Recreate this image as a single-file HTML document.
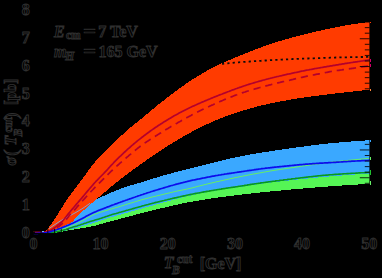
<!DOCTYPE html>
<html><head><meta charset="utf-8"><title>plot</title>
<style>
html,body{margin:0;padding:0;background:#000;}
body{width:382px;height:278px;overflow:hidden;}
svg{display:block;}
text{font-family:"Liberation Serif",serif;font-size:16px;font-weight:bold;fill:#000;stroke:#303030;stroke-width:0.9px;}
</style></head><body>
<svg width="382" height="278" viewBox="0 0 382 278" shape-rendering="crispEdges">
<rect width="382" height="278" fill="#000"/>
<polygon points="50.0,233.0 51.0,232.9 52.0,232.8 53.0,232.7 54.0,232.5 55.0,232.4 56.0,232.3 57.0,232.1 58.0,232.0 59.0,231.9 60.0,231.7 61.0,231.5 62.0,231.4 63.0,231.2 64.0,231.0 65.0,230.8 66.0,230.6 67.0,230.3 68.0,230.1 69.0,229.8 70.0,229.6 71.0,229.3 72.0,229.1 73.0,228.8 74.0,228.6 75.0,228.3 76.0,228.0 77.0,227.7 78.0,227.4 79.0,227.1 80.0,226.8 81.0,226.5 82.0,226.2 83.0,225.9 84.0,225.6 85.0,225.3 86.0,225.1 87.0,224.8 88.0,224.5 89.0,224.2 90.0,223.9 91.0,223.7 92.0,223.4 93.0,223.1 94.0,222.8 95.0,222.5 96.0,222.2 97.0,221.9 98.0,221.5 99.0,221.2 100.0,220.9 101.0,220.6 102.0,220.3 103.0,220.0 104.0,219.6 105.0,219.3 106.0,219.0 107.0,218.7 108.0,218.3 109.0,218.0 110.0,217.6 111.0,217.3 112.0,217.0 113.0,216.7 114.0,216.4 115.0,216.1 116.0,215.9 117.0,215.6 118.0,215.3 119.0,215.0 120.0,214.7 121.0,214.5 122.0,214.2 123.0,213.9 124.0,213.6 125.0,213.3 126.0,213.0 127.0,212.8 128.0,212.5 129.0,212.2 130.0,211.9 131.0,211.6 132.0,211.3 133.0,211.1 134.0,210.8 135.0,210.5 136.0,210.2 137.0,209.9 138.0,209.6 139.0,209.3 140.0,209.1 141.0,208.8 142.0,208.5 143.0,208.2 144.0,207.9 145.0,207.6 146.0,207.4 147.0,207.1 148.0,206.8 149.0,206.5 150.0,206.2 151.0,205.9 152.0,205.7 153.0,205.4 154.0,205.1 155.0,204.8 156.0,204.5 157.0,204.3 158.0,204.0 159.0,203.7 160.0,203.4 161.0,203.2 162.0,202.9 163.0,202.6 164.0,202.3 165.0,202.1 166.0,201.8 167.0,201.5 168.0,201.3 169.0,201.0 170.0,200.7 171.0,200.4 172.0,200.2 173.0,199.9 174.0,199.6 175.0,199.4 176.0,199.1 177.0,198.9 178.0,198.6 179.0,198.3 180.0,198.1 181.0,197.8 182.0,197.6 183.0,197.3 184.0,197.1 185.0,196.9 186.0,196.6 187.0,196.4 188.0,196.2 189.0,195.9 190.0,195.7 191.0,195.5 192.0,195.3 193.0,195.0 194.0,194.8 195.0,194.6 196.0,194.4 197.0,194.2 198.0,194.0 199.0,193.8 200.0,193.6 201.0,193.4 202.0,193.2 203.0,193.0 204.0,192.8 205.0,192.6 206.0,192.4 207.0,192.2 208.0,192.0 209.0,191.8 210.0,191.6 211.0,191.4 212.0,191.3 213.0,191.1 214.0,190.9 215.0,190.7 216.0,190.5 217.0,190.4 218.0,190.2 219.0,190.0 220.0,189.9 221.0,189.7 222.0,189.5 223.0,189.4 224.0,189.2 225.0,189.1 226.0,188.9 227.0,188.7 228.0,188.6 229.0,188.5 230.0,188.3 231.0,188.2 232.0,188.0 233.0,187.9 234.0,187.8 235.0,187.6 236.0,187.5 237.0,187.3 238.0,187.2 239.0,187.1 240.0,186.9 241.0,186.8 242.0,186.6 243.0,186.5 244.0,186.3 245.0,186.1 246.0,186.0 247.0,185.8 248.0,185.7 249.0,185.5 250.0,185.4 251.0,185.3 252.0,185.1 253.0,185.0 254.0,184.8 255.0,184.7 256.0,184.5 257.0,184.4 258.0,184.2 259.0,184.1 260.0,184.0 261.0,183.8 262.0,183.7 263.0,183.6 264.0,183.4 265.0,183.3 266.0,183.2 267.0,183.1 268.0,182.9 269.0,182.8 270.0,182.7 271.0,182.6 272.0,182.4 273.0,182.3 274.0,182.2 275.0,182.1 276.0,182.0 277.0,181.9 278.0,181.8 279.0,181.7 280.0,181.5 281.0,181.4 282.0,181.3 283.0,181.2 284.0,181.1 285.0,181.0 286.0,180.9 287.0,180.8 288.0,180.7 289.0,180.6 290.0,180.4 291.0,180.3 292.0,180.2 293.0,180.1 294.0,180.0 295.0,179.8 296.0,179.7 297.0,179.6 298.0,179.5 299.0,179.4 300.0,179.3 301.0,179.2 302.0,179.1 303.0,179.0 304.0,178.9 305.0,178.8 306.0,178.7 307.0,178.6 308.0,178.5 309.0,178.4 310.0,178.3 311.0,178.2 312.0,178.1 313.0,178.0 314.0,177.9 315.0,177.8 316.0,177.7 317.0,177.6 318.0,177.5 319.0,177.4 320.0,177.3 321.0,177.2 322.0,177.1 323.0,177.0 324.0,176.9 325.0,176.8 326.0,176.7 327.0,176.7 328.0,176.6 329.0,176.5 330.0,176.4 331.0,176.3 332.0,176.3 333.0,176.2 334.0,176.1 335.0,176.0 336.0,175.9 337.0,175.9 338.0,175.8 339.0,175.7 340.0,175.6 341.0,175.6 342.0,175.5 343.0,175.4 344.0,175.3 345.0,175.3 346.0,175.2 347.0,175.1 348.0,175.0 349.0,175.0 350.0,174.9 351.0,174.8 352.0,174.7 353.0,174.7 354.0,174.6 355.0,174.5 356.0,174.4 357.0,174.4 358.0,174.3 359.0,174.2 360.0,174.2 361.0,174.1 362.0,174.0 363.0,173.9 364.0,173.9 365.0,173.8 366.0,173.7 367.0,173.7 368.0,173.6 369.0,173.5 369.6,173.5 369.6,183.9 369.0,183.9 368.0,184.0 367.0,184.0 366.0,184.1 365.0,184.1 364.0,184.2 363.0,184.2 362.0,184.3 361.0,184.3 360.0,184.4 359.0,184.4 358.0,184.5 357.0,184.6 356.0,184.6 355.0,184.7 354.0,184.7 353.0,184.8 352.0,184.8 351.0,184.9 350.0,185.0 349.0,185.0 348.0,185.1 347.0,185.1 346.0,185.2 345.0,185.3 344.0,185.3 343.0,185.4 342.0,185.5 341.0,185.5 340.0,185.6 339.0,185.6 338.0,185.7 337.0,185.8 336.0,185.9 335.0,185.9 334.0,186.0 333.0,186.1 332.0,186.2 331.0,186.2 330.0,186.3 329.0,186.4 328.0,186.5 327.0,186.6 326.0,186.7 325.0,186.8 324.0,186.8 323.0,186.9 322.0,187.0 321.0,187.1 320.0,187.2 319.0,187.2 318.0,187.3 317.0,187.4 316.0,187.4 315.0,187.5 314.0,187.6 313.0,187.7 312.0,187.7 311.0,187.8 310.0,187.9 309.0,188.0 308.0,188.1 307.0,188.1 306.0,188.2 305.0,188.3 304.0,188.4 303.0,188.5 302.0,188.6 301.0,188.6 300.0,188.7 299.0,188.8 298.0,188.9 297.0,189.0 296.0,189.1 295.0,189.2 294.0,189.3 293.0,189.4 292.0,189.4 291.0,189.5 290.0,189.6 289.0,189.7 288.0,189.8 287.0,189.9 286.0,190.0 285.0,190.1 284.0,190.2 283.0,190.3 282.0,190.4 281.0,190.5 280.0,190.5 279.0,190.6 278.0,190.7 277.0,190.8 276.0,190.9 275.0,191.0 274.0,191.1 273.0,191.2 272.0,191.3 271.0,191.4 270.0,191.5 269.0,191.6 268.0,191.7 267.0,191.8 266.0,191.9 265.0,192.0 264.0,192.1 263.0,192.2 262.0,192.3 261.0,192.4 260.0,192.5 259.0,192.6 258.0,192.7 257.0,192.8 256.0,192.9 255.0,193.0 254.0,193.2 253.0,193.3 252.0,193.4 251.0,193.5 250.0,193.6 249.0,193.7 248.0,193.8 247.0,193.9 246.0,194.1 245.0,194.2 244.0,194.3 243.0,194.4 242.0,194.5 241.0,194.6 240.0,194.8 239.0,194.9 238.0,195.0 237.0,195.1 236.0,195.2 235.0,195.4 234.0,195.5 233.0,195.6 232.0,195.7 231.0,195.9 230.0,196.0 229.0,196.1 228.0,196.2 227.0,196.4 226.0,196.5 225.0,196.6 224.0,196.8 223.0,196.9 222.0,197.0 221.0,197.1 220.0,197.3 219.0,197.4 218.0,197.5 217.0,197.7 216.0,197.8 215.0,198.0 214.0,198.1 213.0,198.2 212.0,198.4 211.0,198.5 210.0,198.7 209.0,198.9 208.0,199.0 207.0,199.2 206.0,199.3 205.0,199.5 204.0,199.7 203.0,199.8 202.0,200.0 201.0,200.2 200.0,200.3 199.0,200.5 198.0,200.6 197.0,200.8 196.0,201.0 195.0,201.1 194.0,201.3 193.0,201.5 192.0,201.6 191.0,201.8 190.0,202.0 189.0,202.2 188.0,202.4 187.0,202.6 186.0,202.8 185.0,203.0 184.0,203.2 183.0,203.4 182.0,203.6 181.0,203.8 180.0,204.1 179.0,204.3 178.0,204.5 177.0,204.7 176.0,204.9 175.0,205.2 174.0,205.4 173.0,205.6 172.0,205.8 171.0,206.1 170.0,206.3 169.0,206.5 168.0,206.7 167.0,207.0 166.0,207.2 165.0,207.4 164.0,207.7 163.0,207.9 162.0,208.1 161.0,208.3 160.0,208.6 159.0,208.8 158.0,209.0 157.0,209.3 156.0,209.5 155.0,209.8 154.0,210.0 153.0,210.2 152.0,210.5 151.0,210.7 150.0,211.0 149.0,211.2 148.0,211.5 147.0,211.7 146.0,212.0 145.0,212.2 144.0,212.5 143.0,212.7 142.0,213.0 141.0,213.3 140.0,213.5 139.0,213.8 138.0,214.1 137.0,214.3 136.0,214.6 135.0,214.9 134.0,215.1 133.0,215.4 132.0,215.7 131.0,215.9 130.0,216.2 129.0,216.5 128.0,216.7 127.0,217.0 126.0,217.3 125.0,217.5 124.0,217.8 123.0,218.1 122.0,218.3 121.0,218.6 120.0,218.9 119.0,219.1 118.0,219.4 117.0,219.7 116.0,219.9 115.0,220.2 114.0,220.5 113.0,220.7 112.0,221.0 111.0,221.3 110.0,221.5 109.0,221.8 108.0,222.1 107.0,222.3 106.0,222.6 105.0,222.9 104.0,223.1 103.0,223.4 102.0,223.7 101.0,223.9 100.0,224.2 99.0,224.5 98.0,224.8 97.0,225.1 96.0,225.5 95.0,225.7 94.0,226.0 93.0,226.2 92.0,226.4 91.0,226.6 90.0,226.8 89.0,227.0 88.0,227.2 87.0,227.4 86.0,227.5 85.0,227.7 84.0,227.9 83.0,228.0 82.0,228.2 81.0,228.4 80.0,228.5 79.0,228.7 78.0,228.9 77.0,229.0 76.0,229.2 75.0,229.4 74.0,229.5 73.0,229.7 72.0,229.9 71.0,230.0 70.0,230.2 69.0,230.4 68.0,230.6 67.0,230.7 66.0,230.9 65.0,231.1 64.0,231.3 63.0,231.5 62.0,231.7 61.0,231.8 60.0,232.0 59.0,232.2 58.0,232.3 57.0,232.5 56.0,232.6 55.0,232.8 54.0,232.9 53.0,233.1 52.0,233.2" fill="#55f555"/>
<polygon points="44.0,232.0 45.0,231.3 46.0,230.6 47.0,229.9 48.0,229.2 49.0,228.5 50.0,227.8 51.0,227.2 52.0,226.5 53.0,225.8 54.0,225.1 55.0,224.5 56.0,223.8 57.0,223.1 58.0,222.5 59.0,221.8 60.0,221.2 61.0,220.6 62.0,220.0 63.0,219.4 64.0,218.9 65.0,218.3 66.0,217.8 67.0,217.2 68.0,216.7 69.0,216.2 70.0,215.6 71.0,215.1 72.0,214.6 73.0,214.0 74.0,213.5 75.0,212.9 76.0,212.4 77.0,211.8 78.0,211.2 79.0,210.6 80.0,210.0 81.0,209.4 82.0,208.8 83.0,208.1 84.0,207.5 85.0,206.8 86.0,206.1 87.0,205.4 88.0,204.7 89.0,204.0 90.0,203.3 91.0,202.7 92.0,202.1 93.0,201.5 94.0,200.9 95.0,200.3 96.0,199.8 97.0,199.2 98.0,198.6 99.0,198.1 100.0,197.6 101.0,197.1 102.0,196.7 103.0,196.2 104.0,195.8 105.0,195.3 106.0,194.9 107.0,194.4 108.0,194.0 109.0,193.5 110.0,193.1 111.0,192.6 112.0,192.2 113.0,191.8 114.0,191.4 115.0,191.0 116.0,190.6 117.0,190.2 118.0,189.8 119.0,189.4 120.0,189.1 121.0,188.7 122.0,188.3 123.0,188.0 124.0,187.6 125.0,187.3 126.0,186.9 127.0,186.6 128.0,186.2 129.0,185.9 130.0,185.6 131.0,185.3 132.0,185.0 133.0,184.7 134.0,184.4 135.0,184.1 136.0,183.8 137.0,183.5 138.0,183.3 139.0,183.0 140.0,182.7 141.0,182.4 142.0,182.1 143.0,181.8 144.0,181.5 145.0,181.2 146.0,180.8 147.0,180.5 148.0,180.2 149.0,179.9 150.0,179.6 151.0,179.2 152.0,178.9 153.0,178.6 154.0,178.3 155.0,178.0 156.0,177.7 157.0,177.4 158.0,177.1 159.0,176.8 160.0,176.5 161.0,176.2 162.0,175.9 163.0,175.6 164.0,175.4 165.0,175.1 166.0,174.8 167.0,174.5 168.0,174.2 169.0,174.0 170.0,173.7 171.0,173.4 172.0,173.2 173.0,172.9 174.0,172.6 175.0,172.4 176.0,172.1 177.0,171.9 178.0,171.6 179.0,171.3 180.0,171.1 181.0,170.8 182.0,170.6 183.0,170.3 184.0,170.0 185.0,169.8 186.0,169.5 187.0,169.3 188.0,169.0 189.0,168.8 190.0,168.5 191.0,168.2 192.0,168.0 193.0,167.7 194.0,167.5 195.0,167.2 196.0,167.0 197.0,166.7 198.0,166.5 199.0,166.2 200.0,166.0 201.0,165.7 202.0,165.5 203.0,165.2 204.0,165.0 205.0,164.8 206.0,164.5 207.0,164.2 208.0,164.0 209.0,163.8 210.0,163.5 211.0,163.2 212.0,163.0 213.0,162.8 214.0,162.5 215.0,162.2 216.0,162.0 217.0,161.7 218.0,161.5 219.0,161.2 220.0,161.0 221.0,160.7 222.0,160.5 223.0,160.2 224.0,160.0 225.0,159.7 226.0,159.5 227.0,159.3 228.0,159.0 229.0,158.8 230.0,158.6 231.0,158.4 232.0,158.2 233.0,157.9 234.0,157.7 235.0,157.5 236.0,157.3 237.0,157.1 238.0,156.9 239.0,156.7 240.0,156.5 241.0,156.3 242.0,156.1 243.0,155.9 244.0,155.7 245.0,155.5 246.0,155.3 247.0,155.1 248.0,155.0 249.0,154.8 250.0,154.6 251.0,154.4 252.0,154.2 253.0,154.1 254.0,153.9 255.0,153.7 256.0,153.6 257.0,153.4 258.0,153.2 259.0,153.1 260.0,152.9 261.0,152.8 262.0,152.6 263.0,152.4 264.0,152.3 265.0,152.1 266.0,152.0 267.0,151.8 268.0,151.6 269.0,151.5 270.0,151.3 271.0,151.2 272.0,151.0 273.0,150.9 274.0,150.7 275.0,150.6 276.0,150.4 277.0,150.3 278.0,150.1 279.0,150.0 280.0,149.8 281.0,149.7 282.0,149.6 283.0,149.4 284.0,149.3 285.0,149.1 286.0,149.0 287.0,148.9 288.0,148.7 289.0,148.6 290.0,148.4 291.0,148.3 292.0,148.1 293.0,148.0 294.0,147.9 295.0,147.7 296.0,147.6 297.0,147.4 298.0,147.3 299.0,147.2 300.0,147.0 301.0,146.9 302.0,146.8 303.0,146.6 304.0,146.5 305.0,146.4 306.0,146.2 307.0,146.1 308.0,146.0 309.0,145.8 310.0,145.7 311.0,145.6 312.0,145.4 313.0,145.3 314.0,145.2 315.0,145.1 316.0,144.9 317.0,144.8 318.0,144.7 319.0,144.6 320.0,144.4 321.0,144.3 322.0,144.2 323.0,144.1 324.0,144.0 325.0,143.9 326.0,143.7 327.0,143.6 328.0,143.5 329.0,143.4 330.0,143.3 331.0,143.2 332.0,143.1 333.0,143.0 334.0,142.9 335.0,142.8 336.0,142.7 337.0,142.6 338.0,142.5 339.0,142.5 340.0,142.4 341.0,142.3 342.0,142.2 343.0,142.1 344.0,142.1 345.0,142.0 346.0,141.9 347.0,141.8 348.0,141.7 349.0,141.7 350.0,141.6 351.0,141.5 352.0,141.4 353.0,141.4 354.0,141.3 355.0,141.2 356.0,141.1 357.0,141.1 358.0,141.0 359.0,140.9 360.0,140.9 361.0,140.8 362.0,140.7 363.0,140.6 364.0,140.6 365.0,140.5 366.0,140.4 367.0,140.4 368.0,140.3 369.0,140.2 369.6,140.2 369.6,173.5 369.0,173.5 368.0,173.6 367.0,173.7 366.0,173.7 365.0,173.8 364.0,173.9 363.0,173.9 362.0,174.0 361.0,174.1 360.0,174.2 359.0,174.2 358.0,174.3 357.0,174.4 356.0,174.4 355.0,174.5 354.0,174.6 353.0,174.7 352.0,174.7 351.0,174.8 350.0,174.9 349.0,175.0 348.0,175.0 347.0,175.1 346.0,175.2 345.0,175.3 344.0,175.3 343.0,175.4 342.0,175.5 341.0,175.6 340.0,175.6 339.0,175.7 338.0,175.8 337.0,175.9 336.0,175.9 335.0,176.0 334.0,176.1 333.0,176.2 332.0,176.3 331.0,176.3 330.0,176.4 329.0,176.5 328.0,176.6 327.0,176.7 326.0,176.7 325.0,176.8 324.0,176.9 323.0,177.0 322.0,177.1 321.0,177.2 320.0,177.3 319.0,177.4 318.0,177.5 317.0,177.6 316.0,177.7 315.0,177.8 314.0,177.9 313.0,178.0 312.0,178.1 311.0,178.2 310.0,178.3 309.0,178.4 308.0,178.5 307.0,178.6 306.0,178.7 305.0,178.8 304.0,178.9 303.0,179.0 302.0,179.1 301.0,179.2 300.0,179.3 299.0,179.4 298.0,179.5 297.0,179.6 296.0,179.7 295.0,179.8 294.0,180.0 293.0,180.1 292.0,180.2 291.0,180.3 290.0,180.4 289.0,180.6 288.0,180.7 287.0,180.8 286.0,180.9 285.0,181.0 284.0,181.1 283.0,181.2 282.0,181.3 281.0,181.4 280.0,181.5 279.0,181.7 278.0,181.8 277.0,181.9 276.0,182.0 275.0,182.1 274.0,182.2 273.0,182.3 272.0,182.4 271.0,182.6 270.0,182.7 269.0,182.8 268.0,182.9 267.0,183.1 266.0,183.2 265.0,183.3 264.0,183.4 263.0,183.6 262.0,183.7 261.0,183.8 260.0,184.0 259.0,184.1 258.0,184.2 257.0,184.4 256.0,184.5 255.0,184.7 254.0,184.8 253.0,185.0 252.0,185.1 251.0,185.3 250.0,185.4 249.0,185.5 248.0,185.7 247.0,185.8 246.0,186.0 245.0,186.1 244.0,186.3 243.0,186.5 242.0,186.6 241.0,186.8 240.0,186.9 239.0,187.1 238.0,187.2 237.0,187.3 236.0,187.5 235.0,187.6 234.0,187.8 233.0,187.9 232.0,188.0 231.0,188.2 230.0,188.3 229.0,188.5 228.0,188.6 227.0,188.7 226.0,188.9 225.0,189.1 224.0,189.2 223.0,189.4 222.0,189.5 221.0,189.7 220.0,189.9 219.0,190.0 218.0,190.2 217.0,190.4 216.0,190.5 215.0,190.7 214.0,190.9 213.0,191.1 212.0,191.3 211.0,191.4 210.0,191.6 209.0,191.8 208.0,192.0 207.0,192.2 206.0,192.4 205.0,192.6 204.0,192.8 203.0,193.0 202.0,193.2 201.0,193.4 200.0,193.6 199.0,193.8 198.0,194.0 197.0,194.2 196.0,194.4 195.0,194.6 194.0,194.8 193.0,195.0 192.0,195.3 191.0,195.5 190.0,195.7 189.0,195.9 188.0,196.2 187.0,196.4 186.0,196.6 185.0,196.9 184.0,197.1 183.0,197.3 182.0,197.6 181.0,197.8 180.0,198.1 179.0,198.3 178.0,198.6 177.0,198.9 176.0,199.1 175.0,199.4 174.0,199.6 173.0,199.9 172.0,200.2 171.0,200.4 170.0,200.7 169.0,201.0 168.0,201.3 167.0,201.5 166.0,201.8 165.0,202.1 164.0,202.3 163.0,202.6 162.0,202.9 161.0,203.2 160.0,203.4 159.0,203.7 158.0,204.0 157.0,204.3 156.0,204.5 155.0,204.8 154.0,205.1 153.0,205.4 152.0,205.7 151.0,205.9 150.0,206.2 149.0,206.5 148.0,206.8 147.0,207.1 146.0,207.4 145.0,207.6 144.0,207.9 143.0,208.2 142.0,208.5 141.0,208.8 140.0,209.1 139.0,209.3 138.0,209.6 137.0,209.9 136.0,210.2 135.0,210.5 134.0,210.8 133.0,211.1 132.0,211.3 131.0,211.6 130.0,211.9 129.0,212.2 128.0,212.5 127.0,212.8 126.0,213.0 125.0,213.3 124.0,213.6 123.0,213.9 122.0,214.2 121.0,214.5 120.0,214.7 119.0,215.0 118.0,215.3 117.0,215.6 116.0,215.9 115.0,216.1 114.0,216.4 113.0,216.7 112.0,217.0 111.0,217.3 110.0,217.6 109.0,218.0 108.0,218.3 107.0,218.7 106.0,219.0 105.0,219.3 104.0,219.6 103.0,220.0 102.0,220.3 101.0,220.6 100.0,220.9 99.0,221.2 98.0,221.5 97.0,221.9 96.0,222.2 95.0,222.5 94.0,222.8 93.0,223.1 92.0,223.4 91.0,223.7 90.0,223.9 89.0,224.2 88.0,224.5 87.0,224.8 86.0,225.1 85.0,225.3 84.0,225.6 83.0,225.9 82.0,226.2 81.0,226.5 80.0,226.8 79.0,227.1 78.0,227.4 77.0,227.7 76.0,228.0 75.0,228.3 74.0,228.6 73.0,228.8 72.0,229.1 71.0,229.3 70.0,229.6 69.0,229.8 68.0,230.1 67.0,230.3 66.0,230.6 65.0,230.8 64.0,231.0 63.0,231.2 62.0,231.4 61.0,231.5 60.0,231.7 59.0,231.9 58.0,232.0 57.0,232.1 56.0,232.3 55.0,232.4 54.0,232.5 53.0,232.7 52.0,232.8 51.0,232.9 50.0,233.0" fill="#3aa8ff"/>
<polygon points="43.2,232.5 44.2,231.8 45.2,231.0 46.2,230.1 47.2,229.1 48.2,227.9 49.2,226.7 50.2,225.4 51.2,224.1 52.2,222.7 53.2,221.2 54.2,219.7 55.2,218.1 56.2,216.6 57.2,215.0 58.2,213.5 59.2,211.9 60.2,210.3 61.2,208.7 62.2,207.1 63.2,205.5 64.2,203.9 65.2,202.4 66.2,200.8 67.2,199.3 68.2,197.9 69.2,196.5 70.2,195.1 71.2,193.8 72.2,192.4 73.2,191.1 74.2,189.8 75.2,188.5 76.2,187.2 77.2,185.9 78.2,184.6 79.2,183.3 80.2,181.9 81.2,180.5 82.2,179.2 83.2,177.8 84.2,176.4 85.2,175.0 86.2,173.7 87.2,172.3 88.2,170.9 89.2,169.6 90.2,168.2 91.2,166.9 92.2,165.5 93.2,164.2 94.2,163.0 95.2,161.8 96.2,160.6 97.2,159.5 98.2,158.4 99.2,157.4 100.2,156.3 101.2,155.2 102.2,154.2 103.2,153.2 104.2,152.2 105.2,151.2 106.2,150.2 107.2,149.2 108.2,148.1 109.2,147.1 110.2,146.1 111.2,145.1 112.2,144.1 113.2,143.1 114.2,142.2 115.2,141.2 116.2,140.3 117.2,139.3 118.2,138.4 119.2,137.5 120.2,136.6 121.2,135.7 122.2,134.8 123.2,133.9 124.2,133.0 125.2,132.1 126.2,131.2 127.2,130.3 128.2,129.4 129.2,128.6 130.2,127.7 131.2,126.9 132.2,126.1 133.2,125.3 134.2,124.5 135.2,123.7 136.2,122.9 137.2,122.1 138.2,121.3 139.2,120.5 140.2,119.7 141.2,118.9 142.2,118.0 143.2,117.2 144.2,116.4 145.2,115.5 146.2,114.7 147.2,113.8 148.2,113.0 149.2,112.1 150.2,111.3 151.2,110.4 152.2,109.6 153.2,108.8 154.2,107.9 155.2,107.1 156.2,106.3 157.2,105.5 158.2,104.7 159.2,103.9 160.2,103.1 161.2,102.3 162.2,101.6 163.2,100.8 164.2,100.0 165.2,99.2 166.2,98.4 167.2,97.7 168.2,96.9 169.2,96.1 170.2,95.4 171.2,94.6 172.2,93.8 173.2,93.1 174.2,92.3 175.2,91.6 176.2,90.8 177.2,90.1 178.2,89.4 179.2,88.6 180.2,87.9 181.2,87.2 182.2,86.5 183.2,85.8 184.2,85.1 185.2,84.4 186.2,83.7 187.2,83.0 188.2,82.3 189.2,81.6 190.2,81.0 191.2,80.3 192.2,79.7 193.2,79.0 194.2,78.4 195.2,77.8 196.2,77.2 197.2,76.6 198.2,76.0 199.2,75.4 200.2,74.8 201.2,74.2 202.2,73.6 203.2,73.0 204.2,72.4 205.2,71.8 206.2,71.2 207.2,70.6 208.2,70.1 209.2,69.5 210.2,68.9 211.2,68.4 212.2,67.8 213.2,67.3 214.2,66.8 215.2,66.3 216.2,65.8 217.2,65.4 218.2,64.9 219.2,64.5 220.2,64.0 221.2,63.6 222.2,63.1 223.2,62.7 224.2,62.3 225.2,61.8 226.2,61.4 227.2,61.0 228.2,60.5 229.2,60.1 230.2,59.7 231.2,59.3 232.2,58.8 233.2,58.4 234.2,58.0 235.2,57.6 236.2,57.1 237.2,56.7 238.2,56.3 239.2,55.9 240.2,55.5 241.2,55.1 242.2,54.7 243.2,54.3 244.2,53.9 245.2,53.5 246.2,53.1 247.2,52.7 248.2,52.3 249.2,51.9 250.2,51.5 251.2,51.1 252.2,50.7 253.2,50.3 254.2,50.0 255.2,49.6 256.2,49.2 257.2,48.8 258.2,48.4 259.2,48.0 260.2,47.7 261.2,47.3 262.2,46.9 263.2,46.6 264.2,46.2 265.2,45.9 266.2,45.5 267.2,45.2 268.2,44.8 269.2,44.5 270.2,44.2 271.2,43.8 272.2,43.5 273.2,43.2 274.2,42.8 275.2,42.5 276.2,42.2 277.2,41.9 278.2,41.6 279.2,41.2 280.2,40.9 281.2,40.6 282.2,40.3 283.2,40.0 284.2,39.7 285.2,39.4 286.2,39.1 287.2,38.9 288.2,38.6 289.2,38.3 290.2,38.0 291.2,37.7 292.2,37.5 293.2,37.2 294.2,36.9 295.2,36.6 296.2,36.4 297.2,36.1 298.2,35.8 299.2,35.6 300.2,35.3 301.2,35.1 302.2,34.8 303.2,34.6 304.2,34.3 305.2,34.1 306.2,33.8 307.2,33.6 308.2,33.3 309.2,33.1 310.2,32.9 311.2,32.6 312.2,32.4 313.2,32.2 314.2,31.9 315.2,31.7 316.2,31.5 317.2,31.3 318.2,31.0 319.2,30.8 320.2,30.6 321.2,30.4 322.2,30.2 323.2,29.9 324.2,29.7 325.2,29.5 326.2,29.3 327.2,29.0 328.2,28.8 329.2,28.6 330.2,28.4 331.2,28.2 332.2,28.0 333.2,27.8 334.2,27.6 335.2,27.4 336.2,27.2 337.2,27.0 338.2,26.8 339.2,26.6 340.2,26.4 341.2,26.2 342.2,26.1 343.2,25.9 344.2,25.7 345.2,25.5 346.2,25.4 347.2,25.2 348.2,25.0 349.2,24.9 350.2,24.7 351.2,24.5 352.2,24.4 353.2,24.2 354.2,24.1 355.2,23.9 356.2,23.8 357.2,23.6 358.2,23.5 359.2,23.3 360.2,23.2 361.2,23.0 362.2,22.9 363.2,22.8 364.2,22.6 365.2,22.5 366.2,22.3 367.2,22.2 368.2,22.1 369.2,22.0 369.6,21.9 369.6,89.7 369.0,89.8 368.0,89.9 367.0,90.0 366.0,90.1 365.0,90.2 364.0,90.3 363.0,90.4 362.0,90.6 361.0,90.7 360.0,90.8 359.0,90.9 358.0,91.0 357.0,91.1 356.0,91.2 355.0,91.3 354.0,91.4 353.0,91.5 352.0,91.7 351.0,91.8 350.0,91.9 349.0,92.0 348.0,92.1 347.0,92.2 346.0,92.3 345.0,92.4 344.0,92.5 343.0,92.6 342.0,92.7 341.0,92.8 340.0,92.9 339.0,93.0 338.0,93.2 337.0,93.3 336.0,93.4 335.0,93.5 334.0,93.6 333.0,93.7 332.0,93.8 331.0,94.0 330.0,94.1 329.0,94.2 328.0,94.3 327.0,94.5 326.0,94.6 325.0,94.7 324.0,94.8 323.0,95.0 322.0,95.1 321.0,95.2 320.0,95.3 319.0,95.5 318.0,95.6 317.0,95.7 316.0,95.8 315.0,96.0 314.0,96.1 313.0,96.2 312.0,96.3 311.0,96.5 310.0,96.6 309.0,96.7 308.0,96.9 307.0,97.0 306.0,97.2 305.0,97.3 304.0,97.5 303.0,97.6 302.0,97.8 301.0,97.9 300.0,98.1 299.0,98.2 298.0,98.4 297.0,98.6 296.0,98.7 295.0,98.9 294.0,99.1 293.0,99.2 292.0,99.4 291.0,99.6 290.0,99.8 289.0,100.0 288.0,100.1 287.0,100.3 286.0,100.5 285.0,100.7 284.0,100.9 283.0,101.0 282.0,101.2 281.0,101.4 280.0,101.6 279.0,101.7 278.0,101.9 277.0,102.1 276.0,102.3 275.0,102.5 274.0,102.7 273.0,102.9 272.0,103.1 271.0,103.3 270.0,103.5 269.0,103.8 268.0,104.0 267.0,104.2 266.0,104.5 265.0,104.7 264.0,104.9 263.0,105.2 262.0,105.4 261.0,105.6 260.0,105.9 259.0,106.1 258.0,106.4 257.0,106.6 256.0,106.9 255.0,107.1 254.0,107.4 253.0,107.7 252.0,107.9 251.0,108.2 250.0,108.5 249.0,108.8 248.0,109.1 247.0,109.4 246.0,109.7 245.0,110.0 244.0,110.3 243.0,110.6 242.0,110.9 241.0,111.2 240.0,111.6 239.0,111.9 238.0,112.2 237.0,112.5 236.0,112.9 235.0,113.2 234.0,113.5 233.0,113.8 232.0,114.2 231.0,114.5 230.0,114.9 229.0,115.2 228.0,115.6 227.0,115.9 226.0,116.3 225.0,116.7 224.0,117.0 223.0,117.4 222.0,117.8 221.0,118.2 220.0,118.6 219.0,119.0 218.0,119.4 217.0,119.8 216.0,120.3 215.0,120.7 214.0,121.1 213.0,121.5 212.0,122.0 211.0,122.4 210.0,122.9 209.0,123.3 208.0,123.8 207.0,124.2 206.0,124.7 205.0,125.2 204.0,125.6 203.0,126.1 202.0,126.6 201.0,127.1 200.0,127.6 199.0,128.1 198.0,128.6 197.0,129.1 196.0,129.6 195.0,130.1 194.0,130.7 193.0,131.2 192.0,131.7 191.0,132.3 190.0,132.8 189.0,133.3 188.0,133.9 187.0,134.5 186.0,135.0 185.0,135.6 184.0,136.2 183.0,136.8 182.0,137.3 181.0,137.9 180.0,138.5 179.0,139.1 178.0,139.7 177.0,140.3 176.0,140.9 175.0,141.5 174.0,142.1 173.0,142.7 172.0,143.3 171.0,144.0 170.0,144.6 169.0,145.2 168.0,145.8 167.0,146.5 166.0,147.1 165.0,147.7 164.0,148.4 163.0,149.0 162.0,149.7 161.0,150.3 160.0,151.0 159.0,151.7 158.0,152.3 157.0,153.0 156.0,153.7 155.0,154.3 154.0,155.0 153.0,155.7 152.0,156.4 151.0,157.0 150.0,157.7 149.0,158.4 148.0,159.1 147.0,159.8 146.0,160.5 145.0,161.2 144.0,161.9 143.0,162.6 142.0,163.3 141.0,164.0 140.0,164.7 139.0,165.4 138.0,166.2 137.0,166.9 136.0,167.6 135.0,168.3 134.0,169.0 133.0,169.8 132.0,170.5 131.0,171.3 130.0,172.0 129.0,172.7 128.0,173.5 127.0,174.3 126.0,175.0 125.0,175.8 124.0,176.5 123.0,177.3 122.0,178.1 121.0,178.9 120.0,179.6 119.0,180.4 118.0,181.2 117.0,182.0 116.0,182.8 115.0,183.6 114.0,184.4 113.0,185.2 112.0,186.0 111.0,186.8 110.0,187.7 109.0,188.6 108.0,189.5 107.0,190.3 106.0,191.2 105.0,192.0 104.0,192.9 103.0,193.7 102.0,194.6 101.0,195.4 100.0,196.2 99.0,197.0 98.0,197.9 97.0,198.7 96.0,199.6 95.0,200.4 94.0,201.3 93.0,202.2 92.0,203.1 91.0,203.9 90.0,204.8 89.0,205.7 88.0,206.6 87.0,207.5 86.0,208.3 85.0,209.2 84.0,210.0 83.0,210.9 82.0,211.8 81.0,212.7 80.0,213.7 79.0,214.7 78.0,215.7 77.0,216.8 76.0,217.8 75.0,218.9 74.0,220.1 73.0,221.1 72.0,222.0 71.0,222.7 70.0,223.3 69.0,223.8 68.0,224.3 67.0,224.7 66.0,225.2 65.0,225.6 64.0,226.0 63.0,226.4 62.0,226.9 61.0,227.3 60.0,227.7 59.0,228.2 58.0,228.6 57.0,229.0 56.0,229.5 55.0,229.9 54.0,230.4 53.0,230.8 52.0,231.2 51.0,231.5 50.0,231.8 49.0,232.1 48.0,232.3 47.0,232.5 46.0,232.7 45.0,232.9 44.0,233.0" fill="#ff3b00"/>
<polyline points="49.0,228.5 50.0,227.8 51.0,227.2 52.0,226.5 53.0,225.8 54.0,225.1 55.0,224.5 56.0,223.8 57.0,223.1 58.0,222.5 59.0,221.8 60.0,221.2 61.0,220.6 62.0,220.0 63.0,219.4 64.0,218.9 65.0,218.3 66.0,217.8 67.0,217.2 68.0,216.7 69.0,216.2 70.0,215.6 71.0,215.1 72.0,214.6 73.0,214.0 74.0,213.5 75.0,212.9 76.0,212.4 77.0,211.8 78.0,211.2 79.0,210.6 80.0,210.0 81.0,209.4 82.0,208.8 83.0,208.1 84.0,207.5 85.0,206.8 86.0,206.1 87.0,205.4 88.0,204.7 89.0,204.0 90.0,203.3" fill="none" stroke="#7fa8de" stroke-width="0.9" shape-rendering="auto"/>
<polyline points="50.0,232.5 51.0,232.3 52.0,232.1 53.0,231.8 54.0,231.6 55.0,231.3 56.0,231.0 57.0,230.8 58.0,230.5 59.0,230.2 60.0,229.9 61.0,229.6 62.0,229.3 63.0,228.9 64.0,228.6 65.0,228.3 66.0,227.9 67.0,227.5 68.0,227.2 69.0,226.8 70.0,226.4 71.0,226.0 72.0,225.6 73.0,225.2 74.0,224.8 75.0,224.4 76.0,224.0 77.0,223.5 78.0,223.1 79.0,222.6 80.0,222.0 81.0,221.5 82.0,221.0 83.0,220.5 84.0,219.9 85.0,219.4 86.0,218.8 87.0,218.2 88.0,217.7 89.0,217.1 90.0,216.6 91.0,216.0 92.0,215.5 93.0,215.0 94.0,214.5 95.0,214.1 96.0,213.7 97.0,213.4 98.0,213.0 99.0,212.7 100.0,212.4 101.0,212.1 102.0,211.8 103.0,211.5 104.0,211.2 105.0,210.9 106.0,210.6 107.0,210.3 108.0,210.0 109.0,209.7 110.0,209.4 111.0,209.1 112.0,208.8 113.0,208.5 114.0,208.2 115.0,207.9 116.0,207.6 117.0,207.3 118.0,207.0 119.0,206.7 120.0,206.4 121.0,206.1 122.0,205.8 123.0,205.5 124.0,205.2 125.0,204.8 126.0,204.5 127.0,204.2 128.0,203.9 129.0,203.6 130.0,203.3 131.0,203.0 132.0,202.7 133.0,202.4 134.0,202.1 135.0,201.8 136.0,201.5 137.0,201.2 138.0,200.9 139.0,200.6 140.0,200.3 141.0,200.0 142.0,199.7 143.0,199.4 144.0,199.2 145.0,198.9 146.0,198.6 147.0,198.4 148.0,198.1 149.0,197.9 150.0,197.6 151.0,197.3 152.0,197.1 153.0,196.8 154.0,196.6 155.0,196.4 156.0,196.1 157.0,195.9 158.0,195.6 159.0,195.4 160.0,195.1 161.0,194.9 162.0,194.7 163.0,194.4 164.0,194.2 165.0,193.9 166.0,193.7 167.0,193.5 168.0,193.2 169.0,193.0 170.0,192.7 171.0,192.5 172.0,192.3 173.0,192.0 174.0,191.8 175.0,191.6 176.0,191.3 177.0,191.1 178.0,190.9 179.0,190.7 180.0,190.5 181.0,190.3 182.0,190.1 183.0,189.9 184.0,189.7 185.0,189.5 186.0,189.3 187.0,189.1 188.0,188.8 189.0,188.6 190.0,188.4 191.0,188.2 192.0,187.9 193.0,187.7 194.0,187.4 195.0,187.1 196.0,186.9 197.0,186.6 198.0,186.3 199.0,186.1 200.0,185.8 201.0,185.6 202.0,185.3 203.0,185.1 204.0,184.8 205.0,184.6 206.0,184.3 207.0,184.1 208.0,183.8 209.0,183.6 210.0,183.3 211.0,183.1 212.0,182.9 213.0,182.6 214.0,182.4 215.0,182.2 216.0,181.9 217.0,181.7 218.0,181.5 219.0,181.3 220.0,181.0 221.0,180.8 222.0,180.6 223.0,180.4 224.0,180.1 225.0,179.9 226.0,179.7 227.0,179.5 228.0,179.3 229.0,179.0 230.0,178.8 231.0,178.6 232.0,178.4 233.0,178.2 234.0,177.9 235.0,177.7 236.0,177.5 237.0,177.3 238.0,177.1 239.0,176.9 240.0,176.7 241.0,176.5 242.0,176.3 243.0,176.1 244.0,175.9 245.0,175.7 246.0,175.5 247.0,175.3 248.0,175.1 249.0,174.9 250.0,174.7 251.0,174.5 252.0,174.3 253.0,174.1 254.0,173.9 255.0,173.8 256.0,173.6 257.0,173.4 258.0,173.2 259.0,173.0 260.0,172.9 261.0,172.7 262.0,172.5 263.0,172.3 264.0,172.1 265.0,172.0 266.0,171.8 267.0,171.6 268.0,171.4 269.0,171.2 270.0,171.1 271.0,170.9 272.0,170.7 273.0,170.6 274.0,170.4 275.0,170.2 276.0,170.1 277.0,169.9 278.0,169.8 279.0,169.6 280.0,169.5 281.0,169.3 282.0,169.2 283.0,169.0 284.0,168.9 285.0,168.7 286.0,168.6 287.0,168.4 288.0,168.3 289.0,168.2 290.0,168.0 291.0,167.8 292.0,167.7 293.0,167.6 294.0,167.4 295.0,167.3 296.0,167.1 297.0,166.9 298.0,166.8 299.0,166.6 300.0,166.5 301.0,166.3 302.0,166.2 303.0,166.0 304.0,165.9 305.0,165.7 306.0,165.6 307.0,165.4 308.0,165.3 309.0,165.1 310.0,165.0 311.0,164.9 312.0,164.7 313.0,164.6 314.0,164.4 315.0,164.3 316.0,164.2 317.0,164.0 318.0,163.9 319.0,163.8 320.0,163.7 321.0,163.5 322.0,163.4 323.0,163.3 324.0,163.1 325.0,163.0 326.0,162.9 327.0,162.8 328.0,162.6 329.0,162.5 330.0,162.4 331.0,162.3 332.0,162.1 333.0,162.0 334.0,161.9 335.0,161.8 336.0,161.7 337.0,161.6 338.0,161.4 339.0,161.3 340.0,161.2 341.0,161.1 342.0,161.0 343.0,160.9 344.0,160.8 345.0,160.7 346.0,160.6 347.0,160.5 348.0,160.4 349.0,160.3 350.0,160.2 351.0,160.1 352.0,160.0 353.0,159.9 354.0,159.8 355.0,159.7 356.0,159.6 357.0,159.5 358.0,159.4 359.0,159.3 360.0,159.2 361.0,159.1 362.0,159.0 363.0,158.9 364.0,158.8 365.0,158.7 366.0,158.6 367.0,158.5 368.0,158.4 369.0,158.3 369.6,158.2" fill="none" stroke="#66ee66" stroke-width="1.0" stroke-linejoin="round" shape-rendering="auto"/>
<polyline points="46.0,233.2 47.0,233.1 48.0,233.0 49.0,232.9 50.0,232.8 51.0,232.7 52.0,232.5 53.0,232.4 54.0,232.2 55.0,232.1 56.0,231.9 57.0,231.7 58.0,231.5 59.0,231.3 60.0,231.1 61.0,230.8 62.0,230.6 63.0,230.3 64.0,230.0 65.0,229.7 66.0,229.4 67.0,229.0 68.0,228.7 69.0,228.3 70.0,228.0 71.0,227.7 72.0,227.4 73.0,227.1 74.0,226.8 75.0,226.5 76.0,226.2 77.0,225.9 78.0,225.5 79.0,225.2 80.0,224.9 81.0,224.5 82.0,224.2 83.0,223.9 84.0,223.5 85.0,223.2 86.0,222.9 87.0,222.5 88.0,222.2 89.0,221.9 90.0,221.6 91.0,221.3 92.0,221.0 93.0,220.7 94.0,220.4 95.0,220.1 96.0,219.8 97.0,219.5 98.0,219.2 99.0,218.9 100.0,218.6 101.0,218.3 102.0,217.9 103.0,217.6 104.0,217.3 105.0,216.9 106.0,216.6 107.0,216.3 108.0,215.9 109.0,215.6 110.0,215.2 111.0,214.9 112.0,214.6 113.0,214.3 114.0,214.0 115.0,213.7 116.0,213.5 117.0,213.2 118.0,212.9 119.0,212.6 120.0,212.3 121.0,212.1 122.0,211.8 123.0,211.5 124.0,211.2 125.0,210.9 126.0,210.6 127.0,210.3 128.0,210.1 129.0,209.8 130.0,209.5 131.0,209.2 132.0,208.9 133.0,208.6 134.0,208.4 135.0,208.1 136.0,207.8 137.0,207.5 138.0,207.2 139.0,206.9 140.0,206.7 141.0,206.4 142.0,206.1 143.0,205.8 144.0,205.6 145.0,205.3 146.0,205.0 147.0,204.7 148.0,204.5 149.0,204.2 150.0,203.9 151.0,203.7 152.0,203.4 153.0,203.2 154.0,202.9 155.0,202.6 156.0,202.4 157.0,202.2 158.0,201.9 159.0,201.7 160.0,201.4 161.0,201.2 162.0,200.9 163.0,200.7 164.0,200.5 165.0,200.2 166.0,200.0 167.0,199.8 168.0,199.5 169.0,199.3 170.0,199.1 171.0,198.8 172.0,198.6 173.0,198.3 174.0,198.1 175.0,197.9 176.0,197.7 177.0,197.4 178.0,197.2 179.0,197.0 180.0,196.8 181.0,196.5 182.0,196.3 183.0,196.1 184.0,195.9 185.0,195.7 186.0,195.4 187.0,195.2 188.0,195.0 189.0,194.8 190.0,194.6 191.0,194.4 192.0,194.2 193.0,194.0 194.0,193.8 195.0,193.6 196.0,193.4 197.0,193.2 198.0,193.0 199.0,192.9 200.0,192.7 201.0,192.5 202.0,192.3 203.0,192.1 204.0,191.9 205.0,191.8 206.0,191.6 207.0,191.4 208.0,191.2 209.0,191.1 210.0,190.9 211.0,190.7 212.0,190.5 213.0,190.4 214.0,190.2 215.0,190.0 216.0,189.9 217.0,189.7 218.0,189.5 219.0,189.4 220.0,189.2 221.0,189.1 222.0,188.9 223.0,188.8 224.0,188.6 225.0,188.5 226.0,188.3 227.0,188.1 228.0,188.0 229.0,187.8 230.0,187.7 231.0,187.5 232.0,187.4 233.0,187.3 234.0,187.1 235.0,187.0 236.0,186.8 237.0,186.7 238.0,186.5 239.0,186.3 240.0,186.2 241.0,186.0 242.0,185.9 243.0,185.7 244.0,185.6 245.0,185.4 246.0,185.2 247.0,185.1 248.0,184.9 249.0,184.8 250.0,184.6 251.0,184.4 252.0,184.3 253.0,184.1 254.0,184.0 255.0,183.8 256.0,183.7 257.0,183.5 258.0,183.4 259.0,183.2 260.0,183.1 261.0,182.9 262.0,182.8 263.0,182.7 264.0,182.5 265.0,182.4 266.0,182.2 267.0,182.1 268.0,182.0 269.0,181.8 270.0,181.7 271.0,181.6 272.0,181.5 273.0,181.3 274.0,181.2 275.0,181.1 276.0,180.9 277.0,180.8 278.0,180.7 279.0,180.6 280.0,180.4 281.0,180.3 282.0,180.2 283.0,180.1 284.0,179.9 285.0,179.8 286.0,179.7 287.0,179.6 288.0,179.4 289.0,179.3 290.0,179.2 291.0,179.1 292.0,178.9 293.0,178.8 294.0,178.7 295.0,178.6 296.0,178.4 297.0,178.3 298.0,178.2 299.0,178.1 300.0,178.0 301.0,177.8 302.0,177.7 303.0,177.6 304.0,177.5 305.0,177.4 306.0,177.3 307.0,177.1 308.0,177.0 309.0,176.9 310.0,176.8 311.0,176.7 312.0,176.6 313.0,176.5 314.0,176.3 315.0,176.2 316.0,176.1 317.0,176.0 318.0,175.9 319.0,175.8 320.0,175.7 321.0,175.6 322.0,175.5 323.0,175.4 324.0,175.3 325.0,175.2 326.0,175.1 327.0,175.1 328.0,175.0 329.0,174.9 330.0,174.8 331.0,174.7 332.0,174.7 333.0,174.6 334.0,174.5 335.0,174.4 336.0,174.4 337.0,174.3 338.0,174.2 339.0,174.1 340.0,174.1 341.0,174.0 342.0,174.0 343.0,173.9 344.0,173.8 345.0,173.8 346.0,173.7 347.0,173.6 348.0,173.6 349.0,173.5 350.0,173.5 351.0,173.4 352.0,173.3 353.0,173.3 354.0,173.2 355.0,173.2 356.0,173.1 357.0,173.1 358.0,173.0 359.0,172.9 360.0,172.9 361.0,172.8 362.0,172.8 363.0,172.7 364.0,172.7 365.0,172.6 366.0,172.6 367.0,172.5 368.0,172.5 369.0,172.4 369.6,172.4" fill="none" stroke="#089a1c" stroke-width="1.6" stroke-linejoin="round" shape-rendering="auto"/>
<polyline points="33.7,232.4 34.7,232.4 35.7,232.4 36.7,232.4 37.7,232.4 38.7,232.4 39.7,232.3 40.7,232.3 41.7,232.3 42.7,232.2 43.7,232.2 44.7,232.1 45.7,232.0 46.7,231.7 47.7,231.4 48.7,231.0 49.7,230.6 50.7,230.2 51.7,229.6 52.7,229.0 53.7,228.3 54.7,227.6 55.7,226.9 56.7,226.1 57.7,225.2 58.7,224.4 59.7,223.6 60.7,222.7 61.7,221.8 62.7,220.8 63.7,219.7 64.7,218.5 65.7,217.2 66.7,215.9 67.7,214.6 68.7,213.4 69.7,212.2 70.7,211.0 71.7,209.8 72.7,208.6 73.7,207.5 74.7,206.3 75.7,205.1 76.7,203.9 77.7,202.8 78.7,201.6 79.7,200.4 80.7,199.2 81.7,198.1 82.7,196.9 83.7,195.7 84.7,194.5 85.7,193.3 86.7,192.1 87.7,190.9 88.7,189.7 89.7,188.5 90.7,187.4 91.7,186.2 92.7,185.1 93.7,183.9 94.7,182.8 95.7,181.7 96.7,180.7 97.7,179.6 98.7,178.6 99.7,177.5 100.7,176.5 101.7,175.5 102.7,174.5 103.7,173.5 104.7,172.4 105.7,171.4 106.7,170.4 107.7,169.3 108.7,168.1 109.7,167.0 110.7,165.9 111.7,164.8 112.7,163.8 113.7,162.7 114.7,161.7 115.7,160.7 116.7,159.7 117.7,158.7 118.7,157.7 119.7,156.7 120.7,155.8 121.7,154.8 122.7,153.9 123.7,152.9 124.7,152.0 125.7,151.1 126.7,150.2 127.7,149.2 128.7,148.3 129.7,147.5 130.7,146.6 131.7,145.7 132.7,144.9 133.7,144.0 134.7,143.2 135.7,142.3 136.7,141.5 137.7,140.7 138.7,139.9 139.7,139.1 140.7,138.3 141.7,137.5 142.7,136.8 143.7,136.0 144.7,135.2 145.7,134.5 146.7,133.7 147.7,133.0 148.7,132.3 149.7,131.5 150.7,130.8 151.7,130.1 152.7,129.4 153.7,128.7 154.7,128.0 155.7,127.3 156.7,126.7 157.7,126.0 158.7,125.3 159.7,124.7 160.7,124.0 161.7,123.4 162.7,122.8 163.7,122.1 164.7,121.5 165.7,120.9 166.7,120.3 167.7,119.7 168.7,119.1 169.7,118.5 170.7,117.9 171.7,117.3 172.7,116.7 173.7,116.1 174.7,115.5 175.7,115.0 176.7,114.4 177.7,113.9 178.7,113.3 179.7,112.8 180.7,112.3 181.7,111.7 182.7,111.2 183.7,110.7 184.7,110.2 185.7,109.7 186.7,109.2 187.7,108.7 188.7,108.2 189.7,107.7 190.7,107.3 191.7,106.8 192.7,106.3 193.7,105.9 194.7,105.4 195.7,105.0 196.7,104.5 197.7,104.1 198.7,103.6 199.7,103.2 200.7,102.8 201.7,102.3 202.7,101.9 203.7,101.5 204.7,101.0 205.7,100.6 206.7,100.2 207.7,99.8 208.7,99.4 209.7,99.0 210.7,98.5 211.7,98.1 212.7,97.7 213.7,97.3 214.7,96.9 215.7,96.5 216.7,96.1 217.7,95.7 218.7,95.3 219.7,94.9 220.7,94.5 221.7,94.2 222.7,93.8 223.7,93.4 224.7,93.0 225.7,92.6 226.7,92.2 227.7,91.8 228.7,91.5 229.7,91.1 230.7,90.7 231.7,90.3 232.7,89.9 233.7,89.6 234.7,89.2 235.7,88.8 236.7,88.5 237.7,88.1 238.7,87.8 239.7,87.4 240.7,87.1 241.7,86.7 242.7,86.4 243.7,86.0 244.7,85.7 245.7,85.4 246.7,85.0 247.7,84.7 248.7,84.4 249.7,84.1 250.7,83.8 251.7,83.5 252.7,83.2 253.7,82.9 254.7,82.6 255.7,82.3 256.7,82.0 257.7,81.7 258.7,81.4 259.7,81.1 260.7,80.9 261.7,80.6 262.7,80.3 263.7,80.0 264.7,79.8 265.7,79.5 266.7,79.2 267.7,79.0 268.7,78.7 269.7,78.5 270.7,78.2 271.7,78.0 272.7,77.7 273.7,77.5 274.7,77.2 275.7,77.0 276.7,76.7 277.7,76.5 278.7,76.3 279.7,76.0 280.7,75.8 281.7,75.6 282.7,75.3 283.7,75.1 284.7,74.9 285.7,74.7 286.7,74.4 287.7,74.2 288.7,74.0 289.7,73.8 290.7,73.6 291.7,73.3 292.7,73.1 293.7,72.9 294.7,72.7 295.7,72.5 296.7,72.3 297.7,72.1 298.7,71.9 299.7,71.6 300.7,71.4 301.7,71.2 302.7,71.0 303.7,70.8 304.7,70.6 305.7,70.4 306.7,70.2 307.7,70.0 308.7,69.9 309.7,69.7 310.7,69.5 311.7,69.3 312.7,69.1 313.7,68.9 314.7,68.7 315.7,68.5 316.7,68.3 317.7,68.2 318.7,68.0 319.7,67.8 320.7,67.6 321.7,67.5 322.7,67.3 323.7,67.1 324.7,66.9 325.7,66.8 326.7,66.6 327.7,66.4 328.7,66.3 329.7,66.1 330.7,65.9 331.7,65.8 332.7,65.6 333.7,65.4 334.7,65.3 335.7,65.1 336.7,64.9 337.7,64.8 338.7,64.6 339.7,64.4 340.7,64.3 341.7,64.1 342.7,63.9 343.7,63.8 344.7,63.6 345.7,63.4 346.7,63.3 347.7,63.1 348.7,63.0 349.7,62.8 350.7,62.7 351.7,62.5 352.7,62.4 353.7,62.2 354.7,62.1 355.7,61.9 356.7,61.8 357.7,61.6 358.7,61.5 359.7,61.3 360.7,61.2 361.7,61.0 362.7,60.9 363.7,60.7 364.7,60.6 365.7,60.4 366.7,60.3 367.7,60.1 368.7,59.9 369.6,59.8" fill="none" stroke="#b4002c" stroke-width="1.7" stroke-linejoin="round" shape-rendering="auto"/>
<polyline points="46.0,232.6 47.0,232.4 48.0,232.1 49.0,231.8 50.0,231.4 51.0,230.9 52.0,230.5 53.0,230.0 54.0,229.3 55.0,228.7 56.0,228.0 57.0,227.4 58.0,226.8 59.0,226.2 60.0,225.5 61.0,224.7 62.0,223.9 63.0,223.0 64.0,222.0 65.0,221.0 66.0,219.9 67.0,218.6 68.0,217.3 69.0,216.0 70.0,214.8 71.0,213.7 72.0,212.6 73.0,211.6 74.0,210.5 75.0,209.4 76.0,208.2 77.0,207.0 78.0,205.9 79.0,204.8 80.0,203.6 81.0,202.5 82.0,201.4 83.0,200.3 84.0,199.2 85.0,198.1 86.0,197.0 87.0,195.9 88.0,194.8 89.0,193.7 90.0,192.6 91.0,191.5 92.0,190.5 93.0,189.5 94.0,188.4 95.0,187.4 96.0,186.4 97.0,185.3 98.0,184.3 99.0,183.3 100.0,182.3 101.0,181.3 102.0,180.3 103.0,179.3 104.0,178.3 105.0,177.3 106.0,176.3 107.0,175.3 108.0,174.3 109.0,173.4 110.0,172.4 111.0,171.4 112.0,170.5 113.0,169.6 114.0,168.6 115.0,167.7 116.0,166.8 117.0,165.9 118.0,165.0 119.0,164.1 120.0,163.2 121.0,162.3 122.0,161.5 123.0,160.6 124.0,159.7 125.0,158.8 126.0,158.0 127.0,157.1 128.0,156.3 129.0,155.4 130.0,154.6 131.0,153.8 132.0,152.9 133.0,152.1 134.0,151.3 135.0,150.5 136.0,149.6 137.0,148.8 138.0,148.0 139.0,147.3 140.0,146.5 141.0,145.7 142.0,145.0 143.0,144.3 144.0,143.6 145.0,142.9 146.0,142.2 147.0,141.6 148.0,140.9 149.0,140.3 150.0,139.6 151.0,139.0 152.0,138.4 153.0,137.7 154.0,137.1 155.0,136.5 156.0,135.8 157.0,135.2 158.0,134.6 159.0,133.9 160.0,133.3 161.0,132.7 162.0,132.0 163.0,131.4 164.0,130.8 165.0,130.2 166.0,129.6 167.0,129.0 168.0,128.4 169.0,127.8 170.0,127.2 171.0,126.6 172.0,126.1 173.0,125.5 174.0,124.9 175.0,124.3 176.0,123.7 177.0,123.2 178.0,122.6 179.0,122.0 180.0,121.5 181.0,120.9 182.0,120.3 183.0,119.8 184.0,119.2 185.0,118.6 186.0,118.1 187.0,117.5 188.0,117.0 189.0,116.4 190.0,115.9 191.0,115.4 192.0,114.8 193.0,114.3 194.0,113.8 195.0,113.3 196.0,112.8 197.0,112.3 198.0,111.8 199.0,111.3 200.0,110.8 201.0,110.3 202.0,109.8 203.0,109.3 204.0,108.8 205.0,108.4 206.0,107.9 207.0,107.4 208.0,106.9 209.0,106.5 210.0,106.0 211.0,105.6 212.0,105.1 213.0,104.7 214.0,104.2 215.0,103.8 216.0,103.3 217.0,102.9 218.0,102.4 219.0,102.0 220.0,101.5 221.0,101.1 222.0,100.7 223.0,100.3 224.0,99.8 225.0,99.4 226.0,99.0 227.0,98.6 228.0,98.2 229.0,97.8 230.0,97.4 231.0,97.0 232.0,96.6 233.0,96.2 234.0,95.8 235.0,95.4 236.0,95.0 237.0,94.7 238.0,94.3 239.0,93.9 240.0,93.6 241.0,93.3 242.0,92.9 243.0,92.6 244.0,92.3 245.0,92.0 246.0,91.6 247.0,91.3 248.0,91.0 249.0,90.7 250.0,90.4 251.0,90.1 252.0,89.8 253.0,89.5 254.0,89.2 255.0,88.9 256.0,88.7 257.0,88.4 258.0,88.1 259.0,87.8 260.0,87.5 261.0,87.3 262.0,87.0 263.0,86.7 264.0,86.5 265.0,86.2 266.0,85.9 267.0,85.6 268.0,85.4 269.0,85.1 270.0,84.8 271.0,84.6 272.0,84.3 273.0,84.1 274.0,83.8 275.0,83.6 276.0,83.3 277.0,83.1 278.0,82.8 279.0,82.6 280.0,82.4 281.0,82.1 282.0,81.9 283.0,81.7 284.0,81.5 285.0,81.2 286.0,81.0 287.0,80.8 288.0,80.5 289.0,80.3 290.0,80.1 291.0,79.8 292.0,79.6 293.0,79.4 294.0,79.1 295.0,78.9 296.0,78.7 297.0,78.4 298.0,78.2 299.0,78.0 300.0,77.8 301.0,77.5 302.0,77.3 303.0,77.1 304.0,76.9 305.0,76.7 306.0,76.4 307.0,76.2 308.0,76.0 309.0,75.8 310.0,75.6 311.0,75.4 312.0,75.2 313.0,75.0 314.0,74.8 315.0,74.6 316.0,74.4 317.0,74.2 318.0,74.1 319.0,73.9 320.0,73.7 321.0,73.5 322.0,73.3 323.0,73.1 324.0,72.9 325.0,72.7 326.0,72.5 327.0,72.3 328.0,72.1 329.0,71.9 330.0,71.7 331.0,71.5 332.0,71.3 333.0,71.2 334.0,71.0 335.0,70.8 336.0,70.7 337.0,70.5 338.0,70.4 339.0,70.3 340.0,70.1 341.0,70.0 342.0,69.9 343.0,69.7 344.0,69.6 345.0,69.4 346.0,69.3 347.0,69.2 348.0,69.0 349.0,68.9 350.0,68.7 351.0,68.6 352.0,68.4 353.0,68.3 354.0,68.1 355.0,68.0 356.0,67.8 357.0,67.7 358.0,67.5 359.0,67.3 360.0,67.2 361.0,67.0 362.0,66.9 363.0,66.7 364.0,66.6 365.0,66.4 366.0,66.3 367.0,66.1 368.0,66.0 369.0,65.8 369.6,65.7" fill="none" stroke="#b4002c" stroke-width="1.7" stroke-dasharray="7.3 4.9" stroke-linejoin="round" shape-rendering="auto"/>
<polyline points="33.7,233.3 34.7,233.3 35.7,233.3 36.7,233.3 37.7,233.3 38.7,233.2 39.7,233.2 40.7,233.2 41.7,233.1 42.7,233.1 43.7,233.0 44.7,232.9 45.7,232.8 46.7,232.6 47.7,232.4 48.7,232.1 49.7,231.9 50.7,231.6 51.7,231.3 52.7,231.0 53.7,230.7 54.7,230.4 55.7,230.0 56.7,229.7 57.7,229.3 58.7,228.9 59.7,228.6 60.7,228.2 61.7,227.8 62.7,227.4 63.7,227.0 64.7,226.6 65.7,226.2 66.7,225.8 67.7,225.4 68.7,225.0 69.7,224.5 70.7,224.1 71.7,223.6 72.7,223.2 73.7,222.7 74.7,222.2 75.7,221.7 76.7,221.3 77.7,220.8 78.7,220.3 79.7,219.8 80.7,219.3 81.7,218.8 82.7,218.2 83.7,217.7 84.7,217.2 85.7,216.6 86.7,216.1 87.7,215.6 88.7,215.0 89.7,214.5 90.7,214.0 91.7,213.5 92.7,213.0 93.7,212.5 94.7,212.1 95.7,211.7 96.7,211.2 97.7,210.8 98.7,210.4 99.7,210.0 100.7,209.6 101.7,209.2 102.7,208.9 103.7,208.5 104.7,208.1 105.7,207.7 106.7,207.3 107.7,206.9 108.7,206.6 109.7,206.2 110.7,205.8 111.7,205.4 112.7,205.0 113.7,204.7 114.7,204.3 115.7,203.9 116.7,203.6 117.7,203.2 118.7,202.8 119.7,202.5 120.7,202.1 121.7,201.8 122.7,201.4 123.7,201.0 124.7,200.7 125.7,200.3 126.7,200.0 127.7,199.6 128.7,199.3 129.7,198.9 130.7,198.6 131.7,198.2 132.7,197.9 133.7,197.5 134.7,197.2 135.7,196.8 136.7,196.5 137.7,196.1 138.7,195.8 139.7,195.5 140.7,195.1 141.7,194.8 142.7,194.5 143.7,194.1 144.7,193.8 145.7,193.5 146.7,193.1 147.7,192.8 148.7,192.5 149.7,192.2 150.7,191.8 151.7,191.5 152.7,191.2 153.7,190.9 154.7,190.6 155.7,190.3 156.7,190.0 157.7,189.7 158.7,189.4 159.7,189.1 160.7,188.8 161.7,188.5 162.7,188.2 163.7,187.9 164.7,187.6 165.7,187.3 166.7,187.0 167.7,186.7 168.7,186.4 169.7,186.1 170.7,185.8 171.7,185.5 172.7,185.3 173.7,185.0 174.7,184.7 175.7,184.4 176.7,184.1 177.7,183.9 178.7,183.6 179.7,183.4 180.7,183.1 181.7,182.8 182.7,182.6 183.7,182.3 184.7,182.1 185.7,181.8 186.7,181.6 187.7,181.3 188.7,181.1 189.7,180.9 190.7,180.6 191.7,180.4 192.7,180.2 193.7,180.0 194.7,179.8 195.7,179.6 196.7,179.4 197.7,179.2 198.7,179.0 199.7,178.8 200.7,178.6 201.7,178.4 202.7,178.2 203.7,178.0 204.7,177.8 205.7,177.6 206.7,177.4 207.7,177.2 208.7,177.0 209.7,176.8 210.7,176.6 211.7,176.4 212.7,176.2 213.7,176.1 214.7,175.9 215.7,175.7 216.7,175.5 217.7,175.4 218.7,175.2 219.7,175.0 220.7,174.9 221.7,174.7 222.7,174.5 223.7,174.4 224.7,174.2 225.7,174.0 226.7,173.9 227.7,173.7 228.7,173.6 229.7,173.4 230.7,173.3 231.7,173.1 232.7,173.0 233.7,172.8 234.7,172.7 235.7,172.5 236.7,172.4 237.7,172.2 238.7,172.1 239.7,171.9 240.7,171.8 241.7,171.6 242.7,171.5 243.7,171.3 244.7,171.2 245.7,171.0 246.7,170.9 247.7,170.7 248.7,170.6 249.7,170.4 250.7,170.3 251.7,170.2 252.7,170.0 253.7,169.9 254.7,169.7 255.7,169.6 256.7,169.4 257.7,169.3 258.7,169.1 259.7,169.0 260.7,168.9 261.7,168.7 262.7,168.6 263.7,168.5 264.7,168.4 265.7,168.2 266.7,168.1 267.7,168.0 268.7,167.9 269.7,167.8 270.7,167.7 271.7,167.6 272.7,167.4 273.7,167.3 274.7,167.2 275.7,167.1 276.7,167.0 277.7,166.9 278.7,166.8 279.7,166.7 280.7,166.6 281.7,166.5 282.7,166.4 283.7,166.3 284.7,166.2 285.7,166.1 286.7,166.0 287.7,165.9 288.7,165.8 289.7,165.7 290.7,165.6 291.7,165.5 292.7,165.4 293.7,165.3 294.7,165.2 295.7,165.1 296.7,165.0 297.7,164.9 298.7,164.8 299.7,164.7 300.7,164.7 301.7,164.6 302.7,164.5 303.7,164.4 304.7,164.3 305.7,164.2 306.7,164.2 307.7,164.1 308.7,164.0 309.7,163.9 310.7,163.8 311.7,163.8 312.7,163.7 313.7,163.6 314.7,163.6 315.7,163.5 316.7,163.4 317.7,163.4 318.7,163.3 319.7,163.2 320.7,163.2 321.7,163.1 322.7,163.1 323.7,163.0 324.7,162.9 325.7,162.9 326.7,162.8 327.7,162.8 328.7,162.7 329.7,162.7 330.7,162.6 331.7,162.5 332.7,162.5 333.7,162.4 334.7,162.4 335.7,162.3 336.7,162.2 337.7,162.2 338.7,162.1 339.7,162.0 340.7,162.0 341.7,161.9 342.7,161.8 343.7,161.7 344.7,161.7 345.7,161.6 346.7,161.6 347.7,161.5 348.7,161.4 349.7,161.4 350.7,161.3 351.7,161.2 352.7,161.2 353.7,161.1 354.7,161.1 355.7,161.0 356.7,161.0 357.7,160.9 358.7,160.9 359.7,160.8 360.7,160.8 361.7,160.7 362.7,160.7 363.7,160.6 364.7,160.6 365.7,160.5 366.7,160.5 367.7,160.5 368.7,160.4 369.6,160.4" fill="none" stroke="#0c0cec" stroke-width="1.7" stroke-linejoin="round" shape-rendering="auto"/>
<polyline points="222.0,63.9 223.0,63.8 224.0,63.7 225.0,63.6 226.0,63.5 227.0,63.4 228.0,63.3 229.0,63.2 230.0,63.1 231.0,63.0 232.0,62.9 233.0,62.8 234.0,62.7 235.0,62.7 236.0,62.6 237.0,62.5 238.0,62.4 239.0,62.3 240.0,62.2 241.0,62.2 242.0,62.1 243.0,62.0 244.0,61.9 245.0,61.9 246.0,61.8 247.0,61.7 248.0,61.6 249.0,61.6 250.0,61.5 251.0,61.4 252.0,61.4 253.0,61.3 254.0,61.2 255.0,61.2 256.0,61.1 257.0,61.0 258.0,61.0 259.0,60.9 260.0,60.8 261.0,60.8 262.0,60.7 263.0,60.6 264.0,60.6 265.0,60.5 266.0,60.5 267.0,60.4 268.0,60.3 269.0,60.3 270.0,60.2 271.0,60.2 272.0,60.1 273.0,60.1 274.0,60.0 275.0,59.9 276.0,59.9 277.0,59.8 278.0,59.8 279.0,59.7 280.0,59.7 281.0,59.6 282.0,59.6 283.0,59.5 284.0,59.5 285.0,59.4 286.0,59.4 287.0,59.3 288.0,59.3 289.0,59.2 290.0,59.2 291.0,59.1 292.0,59.1 293.0,59.0 294.0,59.0 295.0,58.9 296.0,58.9 297.0,58.8 298.0,58.8 299.0,58.8 300.0,58.7 301.0,58.7 302.0,58.7 303.0,58.6 304.0,58.6 305.0,58.6 306.0,58.5 307.0,58.5 308.0,58.5 309.0,58.4 310.0,58.4 311.0,58.4 312.0,58.3 313.0,58.3 314.0,58.3 315.0,58.2 316.0,58.2 317.0,58.2 318.0,58.1 319.0,58.1 320.0,58.1 321.0,58.0 322.0,58.0 323.0,58.0 324.0,57.9 325.0,57.9 326.0,57.9 327.0,57.8 328.0,57.8 329.0,57.8 330.0,57.7 331.0,57.7 332.0,57.7 333.0,57.6 334.0,57.6 335.0,57.6 336.0,57.5 337.0,57.5 338.0,57.5 339.0,57.5 340.0,57.4 341.0,57.4 342.0,57.4 343.0,57.4 344.0,57.3 345.0,57.3 346.0,57.3 347.0,57.3 348.0,57.3 349.0,57.2 350.0,57.2 351.0,57.2 352.0,57.2 353.0,57.2 354.0,57.2 355.0,57.1 356.0,57.1 357.0,57.1 358.0,57.1 359.0,57.1 360.0,57.1 361.0,57.0 362.0,57.0 363.0,57.0 364.0,57.0 365.0,57.0 366.0,57.0 367.0,56.9 368.0,56.9 369.0,56.9 369.6,56.9" fill="none" stroke="#0c0c0c" stroke-width="1.8" stroke-dasharray="2.2 3.15" stroke-linejoin="round" shape-rendering="auto"/>
<rect x="33.4" y="230.8" width="1.8" height="1.2" fill="#ff5a10"/>
<rect x="41.8" y="231" width="2.4" height="1.4" fill="#5fb4ff"/>
<path d="M359.8,233.35H369.6M33.7,233.35h9.8M364.8,227.79H369.6M33.7,227.79h4.8M364.8,222.23H369.6M33.7,222.23h4.8M364.8,216.67H369.6M33.7,216.67h4.8M364.8,211.11H369.6M33.7,211.11h4.8M359.8,205.55H369.6M33.7,205.55h9.8M364.8,199.99H369.6M33.7,199.99h4.8M364.8,194.43H369.6M33.7,194.43h4.8M364.8,188.87H369.6M33.7,188.87h4.8M364.8,183.31H369.6M33.7,183.31h4.8M359.8,177.75H369.6M33.7,177.75h9.8M364.8,172.19H369.6M33.7,172.19h4.8M364.8,166.63H369.6M33.7,166.63h4.8M364.8,161.07H369.6M33.7,161.07h4.8M364.8,155.51H369.6M33.7,155.51h4.8M359.8,149.95H369.6M33.7,149.95h9.8M364.8,144.39H369.6M33.7,144.39h4.8M364.8,138.83H369.6M33.7,138.83h4.8M364.8,133.27H369.6M33.7,133.27h4.8M364.8,127.71H369.6M33.7,127.71h4.8M359.8,122.15H369.6M33.7,122.15h9.8M364.8,116.59H369.6M33.7,116.59h4.8M364.8,111.03H369.6M33.7,111.03h4.8M364.8,105.47H369.6M33.7,105.47h4.8M364.8,99.91H369.6M33.7,99.91h4.8M359.8,94.35H369.6M33.7,94.35h9.8M364.8,88.79H369.6M33.7,88.79h4.8M364.8,83.23H369.6M33.7,83.23h4.8M364.8,77.67H369.6M33.7,77.67h4.8M364.8,72.11H369.6M33.7,72.11h4.8M359.8,66.55H369.6M33.7,66.55h9.8M364.8,60.99H369.6M33.7,60.99h4.8M364.8,55.43H369.6M33.7,55.43h4.8M364.8,49.87H369.6M33.7,49.87h4.8M364.8,44.31H369.6M33.7,44.31h4.8M359.8,38.75H369.6M33.7,38.75h9.8M364.8,33.19H369.6M33.7,33.19h4.8M364.8,27.63H369.6M33.7,27.63h4.8M364.8,22.07H369.6M33.7,22.07h4.8M364.8,16.51H369.6M33.7,16.51h4.8M359.8,10.95H369.6M33.7,10.95h9.8M34.40,233.6v-9.8M34.40,10.6v9.8M41.12,233.6v-4.8M41.12,10.6v4.8M47.84,233.6v-4.8M47.84,10.6v4.8M54.55,233.6v-4.8M54.55,10.6v4.8M61.27,233.6v-4.8M61.27,10.6v4.8M67.99,233.6v-4.8M67.99,10.6v4.8M74.71,233.6v-4.8M74.71,10.6v4.8M81.43,233.6v-4.8M81.43,10.6v4.8M88.14,233.6v-4.8M88.14,10.6v4.8M94.86,233.6v-4.8M94.86,10.6v4.8M101.58,233.6v-9.8M101.58,10.6v9.8M108.30,233.6v-4.8M108.30,10.6v4.8M115.02,233.6v-4.8M115.02,10.6v4.8M121.73,233.6v-4.8M121.73,10.6v4.8M128.45,233.6v-4.8M128.45,10.6v4.8M135.17,233.6v-4.8M135.17,10.6v4.8M141.89,233.6v-4.8M141.89,10.6v4.8M148.61,233.6v-4.8M148.61,10.6v4.8M155.32,233.6v-4.8M155.32,10.6v4.8M162.04,233.6v-4.8M162.04,10.6v4.8M168.76,233.6v-9.8M168.76,10.6v9.8M175.48,233.6v-4.8M175.48,10.6v4.8M182.20,233.6v-4.8M182.20,10.6v4.8M188.91,233.6v-4.8M188.91,10.6v4.8M195.63,233.6v-4.8M195.63,10.6v4.8M202.35,233.6v-4.8M202.35,10.6v4.8M209.07,233.6v-4.8M209.07,10.6v4.8M215.79,233.6v-4.8M215.79,10.6v4.8M222.50,233.6v-4.8M222.50,10.6v4.8M229.22,233.6v-4.8M229.22,10.6v4.8M235.94,233.6v-9.8M235.94,10.6v9.8M242.66,233.6v-4.8M242.66,10.6v4.8M249.38,233.6v-4.8M249.38,10.6v4.8M256.09,233.6v-4.8M256.09,10.6v4.8M262.81,233.6v-4.8M262.81,10.6v4.8M269.53,233.6v-4.8M269.53,10.6v4.8M276.25,233.6v-4.8M276.25,10.6v4.8M282.97,233.6v-4.8M282.97,10.6v4.8M289.68,233.6v-4.8M289.68,10.6v4.8M296.40,233.6v-4.8M296.40,10.6v4.8M303.12,233.6v-9.8M303.12,10.6v9.8M309.84,233.6v-4.8M309.84,10.6v4.8M316.56,233.6v-4.8M316.56,10.6v4.8M323.27,233.6v-4.8M323.27,10.6v4.8M329.99,233.6v-4.8M329.99,10.6v4.8M336.71,233.6v-4.8M336.71,10.6v4.8M343.43,233.6v-4.8M343.43,10.6v4.8M350.15,233.6v-4.8M350.15,10.6v4.8M356.86,233.6v-4.8M356.86,10.6v4.8M363.58,233.6v-4.8M363.58,10.6v4.8M370.30,233.6v-9.8M370.30,10.6v9.8" stroke="#000" stroke-width="0.85" fill="none" shape-rendering="auto"/>
<rect x="33.7" y="10.6" width="336.2" height="223.0" fill="none" stroke="#000" stroke-width="1" shape-rendering="auto"/>
<line x1="370.7" y1="59" x2="370.7" y2="67" stroke="#d0006a" stroke-width="1.2" stroke-dasharray="3 1.5"/>
<line x1="370.7" y1="157" x2="370.7" y2="159.5" stroke="#66ee66" stroke-width="1.2"/>
<line x1="370.7" y1="170" x2="370.7" y2="174.5" stroke="#22c030" stroke-width="1.2"/>
<line x1="370.7" y1="181" x2="370.7" y2="184.5" stroke="#66ee66" stroke-width="1.2"/>
<rect x="370" y="21.5" width="1" height="1.5" fill="#ff3b00"/>
<rect x="370" y="88.5" width="1" height="2" fill="#ff8a40"/>
<rect x="370" y="139.5" width="1" height="2" fill="#3aa8ff"/>
<g><text x="29.8" y="237.6" text-anchor="end">0</text>
<text x="29.8" y="209.8" text-anchor="end">1</text>
<text x="29.8" y="182.0" text-anchor="end">2</text>
<text x="29.8" y="154.2" text-anchor="end">3</text>
<text x="29.8" y="126.4" text-anchor="end">4</text>
<text x="29.8" y="98.6" text-anchor="end">5</text>
<text x="29.8" y="70.8" text-anchor="end">6</text>
<text x="29.8" y="43.0" text-anchor="end">7</text>
<text x="29.8" y="15.2" text-anchor="end">8</text>
<text x="33.4" y="248.7" text-anchor="middle">0</text>
<text x="100.6" y="248.7" text-anchor="middle">10</text>
<text x="167.8" y="248.7" text-anchor="middle">20</text>
<text x="234.9" y="248.7" text-anchor="middle">30</text>
<text x="302.1" y="248.7" text-anchor="middle">40</text>
<text x="369.3" y="248.7" text-anchor="middle">50</text>
<text x="54" y="37" font-style="italic">E</text><text x="66" y="38.8" style="font-size:11.5px">cm</text><text x="83" y="37.4" textLength="13" lengthAdjust="spacingAndGlyphs" style="font-weight:normal;stroke-width:0.5px">=</text><text x="98.3" y="37.4">7 TeV</text>
<text x="54" y="56.5" font-style="italic">m</text><text x="65.3" y="59.8" style="font-size:11.5px" font-style="italic">H</text><text x="83" y="57.3" textLength="13" lengthAdjust="spacingAndGlyphs" style="font-weight:normal;stroke-width:0.5px">=</text><text x="98.5" y="57.3">165 GeV</text>
<text x="163.8" y="268" font-style="italic">T</text><text x="177" y="263.3" style="font-size:11.5px">cut</text><text x="172" y="274" style="font-size:11.5px" font-style="italic">B</text><text x="199.7" y="268.6">[GeV]</text>
<g transform="translate(15.8,167) rotate(-90)"><text x="1.5" y="0" font-style="italic">σ</text><text x="11.3" y="1" style="font-size:19px;font-weight:normal">(</text><text x="21.5" y="0" font-style="italic">T</text><text x="34.5" y="-4.2" style="font-size:11.5px">cut</text><text x="30.5" y="6.3" style="font-size:11.5px" font-style="italic">B</text><text x="48" y="1" style="font-size:19px;font-weight:normal">)</text><text x="62" y="0" textLength="26" lengthAdjust="spacingAndGlyphs">[pb]</text></g></g>
</svg>
</body></html>
